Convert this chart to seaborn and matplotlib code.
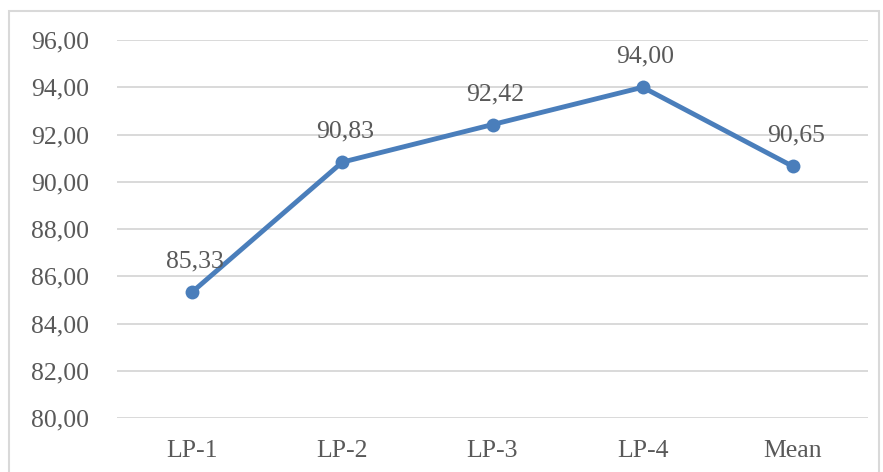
import matplotlib
matplotlib.use("Agg")
import matplotlib.pyplot as plt
from matplotlib.ticker import FuncFormatter, MultipleLocator
from matplotlib.patches import Rectangle
import seaborn as sns
import pandas as pd

categories = ["LP-1", "LP-2", "LP-3", "LP-4", "Mean"]
scores = [85.33, 90.83, 92.42, 94.00, 90.65]

sns.set_theme(style="white")
plt.rcParams["font.family"] = ["Liberation Serif", "DejaVu Serif"]

W, H = 883, 472
fig = plt.figure(figsize=(W / 100, H / 100), dpi=100)
ax = fig.add_axes([117 / W, 1 - 418 / H, (868 - 117) / W, (418 - 40) / H])

df = pd.DataFrame({"cat": categories, "score": scores})
line_color = "#4A7EBB"
text_color = "#595959"
grid_color = "#D9D9D9"

sns.lineplot(data=df, x="cat", y="score", ax=ax, color=line_color,
             linewidth=3.5, marker="o", markersize=10, markeredgewidth=0,
             sort=False, zorder=3)

fmt = lambda v: f"{v:.2f}".replace(".", ",")

for i, v in enumerate(scores):
    ax.annotate(fmt(v), (i, v), xytext=(2, 22), textcoords="offset points",
                ha="center", va="center", fontsize=18.5, color=text_color,
                zorder=4)

ax.set_xlim(-0.5, len(categories) - 0.5)
ax.set_ylim(80, 96)
ax.yaxis.set_major_locator(MultipleLocator(2))
ax.yaxis.set_major_formatter(FuncFormatter(lambda v, _: fmt(v)))
ax.grid(axis="y", color=grid_color, linewidth=1.4)
ax.set_axisbelow(True)
for s in ax.spines.values():
    s.set_visible(False)
ax.tick_params(axis="both", length=0, labelsize=18.5, labelcolor=text_color)
ax.tick_params(axis="y", pad=20)
ax.tick_params(axis="x", pad=16)
ax.set_xlabel("")
ax.set_ylabel("")

# outer chart border
fig.patches.append(Rectangle((9 / W, -0.02), (879 - 9) / W, 1 - 11 / H + 0.02,
                             transform=fig.transFigure, fill=False,
                             edgecolor=grid_color, linewidth=1.5))

fig.savefig("out.png", dpi=100)
